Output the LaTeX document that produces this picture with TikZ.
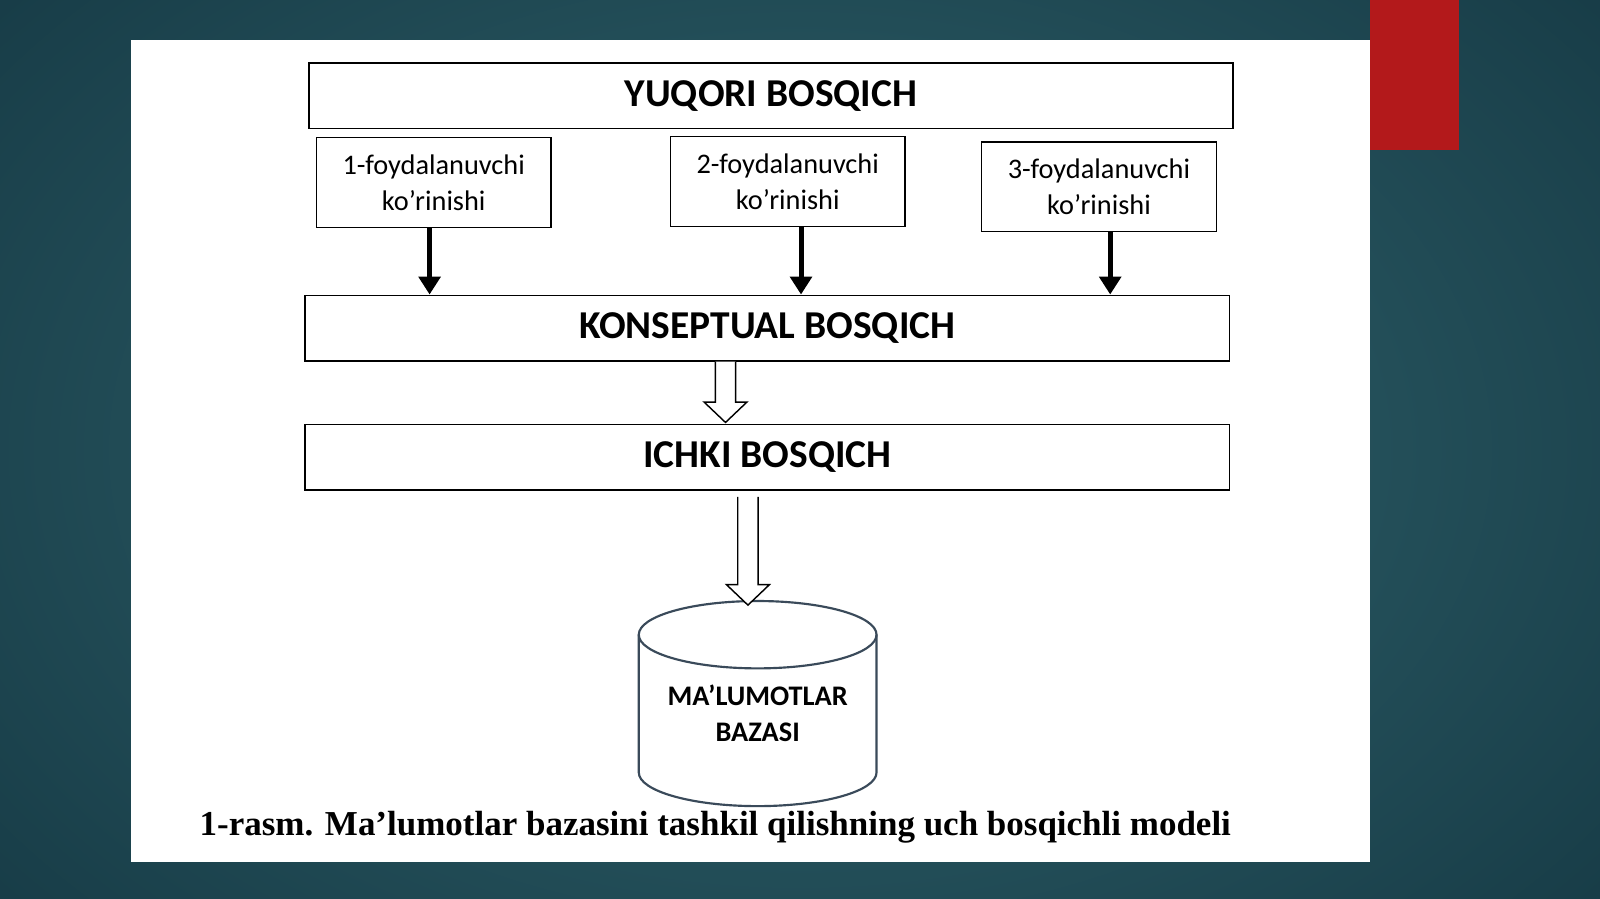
\documentclass[tikz,border=0pt]{standalone}
\usepackage{fontspec}
\setmainfont{Carlito}
\newfontfamily\capfont{Liberation Serif}
\usetikzlibrary{arrows.meta,calc,positioning}
\definecolor{bgdark}{HTML}{163A45}
\definecolor{bglight}{HTML}{32666F}
\definecolor{slidered}{HTML}{B3191B}
\definecolor{cylline}{HTML}{3A4A5A}
\tikzset{
  level/.style={draw, line width=0.5pt, minimum width=906*0.01cm, minimum height=64*0.01cm, font=\bfseries\fontsize{11}{13}\selectfont},
  view/.style={draw, line width=0.4pt, minimum width=230*0.01cm, minimum height=88*0.01cm, align=center, font=\fontsize{7.9}{10}\selectfont},
  down/.style={line width=1.4pt, -{Triangle[length=5pt,width=6pt]}},
  hollow/.style={draw, fill=white, line width=0.4pt, line join=miter},
  cyl/.style={draw=cylline, line width=0.6pt}
}
\newcommand\hollowarrow[2]{% from coordinate #1 to coordinate #2 (vertical)
  \draw[hollow] ($(#1)+(-10,0)$) -- ($(#2)+(-10,-20)$) -- ($(#2)+(-21,-20)$) -- (#2)
    -- ($(#2)+(21,-20)$) -- ($(#2)+(10,-20)$) -- ($(#1)+(10,0)$);}
\begin{document}
\begin{tikzpicture}[x=0.01cm, y=-0.01cm]
  % background
  \useasboundingbox (0,0) rectangle (1568,881);
  \shade[inner color=bglight, outer color=bgdark] (-300,-300) rectangle (1868,1181);
  \fill[slidered] (1343,0) rectangle (1430,147);
  \fill[white] (128,39) rectangle (1343,845);

  % Levels
  \node[level] (top) at (755.5,94) {YUQORI BOSQICH};
  \node[level] (kons) at (752,321.5) {KONSEPTUAL BOSQICH};
  \node[level] (ichki) at (752,448) {ICHKI BOSQICH};

  % User views
  \node[view] (v1) at (425,179) {1-foydalanuvchi\\ko’rinishi};
  \node[view] (v2) at (772,178) {2-foydalanuvchi\\ko’rinishi};
  \node[view] (v3) at (1077,183) {3-foydalanuvchi\\ko’rinishi};

  % Database
  \draw[cyl, fill=white] (626,622) -- (626,757) arc[start angle=180, end angle=0, x radius=116.5, y radius=33] -- (859,622);
  \draw[cyl] (742.5,622) ellipse[x radius=116.5, y radius=33];
  \node[align=center, font=\bfseries\fontsize{7.9}{10}\selectfont] (db) at (742.5,699) {MA’LUMOTLAR\\BAZASI};

  % Edges
  \draw[down] (v1.south -| 421,0) -- (kons.north -| 421,0);
  \draw[down] (v2.south -| 785,0) -- (kons.north -| 785,0);
  \draw[down] (v3.south -| 1088,0) -- (kons.north -| 1088,0);
  \coordinate (a1s) at (kons.south -| 711,0);
  \coordinate (a1e) at (711,414);
  \coordinate (a2s) at ($(ichki.south -| 733,0)+(0,6)$);
  \coordinate (a2e) at (733,593);
  \hollowarrow{a1s}{a1e}
  \hollowarrow{a2s}{a2e}

  % Caption
  \node[font=\capfont\bfseries\fontsize{9.75}{11}\selectfont] (cap) at (701,811) {1-rasm. Ma’lumotlar bazasini tashkil qilishning uch bosqichli modeli};
\end{tikzpicture}
\end{document}
